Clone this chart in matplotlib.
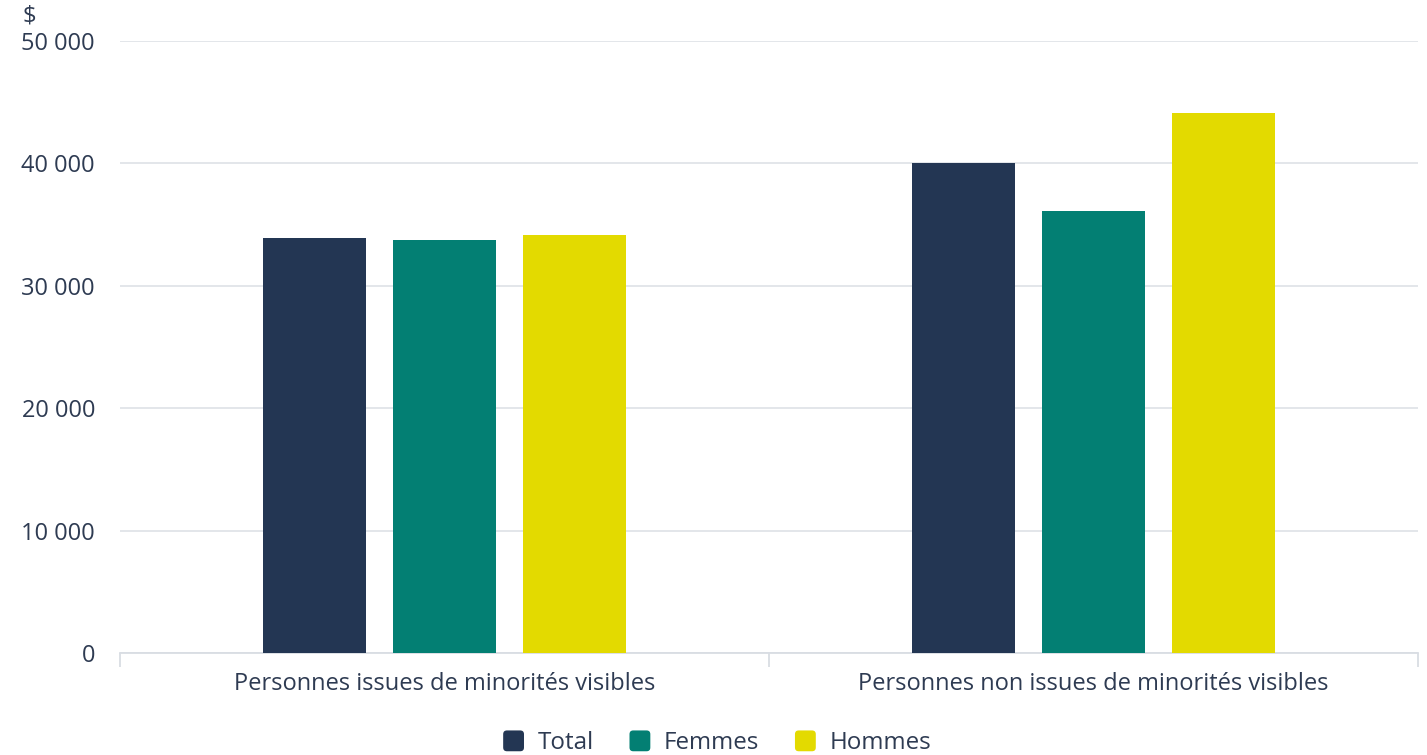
import matplotlib
matplotlib.use("Agg")
import matplotlib.pyplot as plt
import numpy as np
from matplotlib.patches import FancyBboxPatch
from matplotlib.legend_handler import HandlerBase

categories = ["Personnes issues de minorités visibles",
              "Personnes non issues de minorités visibles"]
series_names = ["Total", "Femmes", "Hommes"]
total = [33900, 40000]
femmes = [33750, 36100]
hommes = [34150, 44100]
yticks = [0, 10000, 20000, 30000, 40000, 50000]
colors = ["#233653", "#037f73", "#e3da00"]
text_color = "#2e3b52"

plt.rcParams['font.family'] = ['Open Sans', 'DejaVu Sans']

W, H = 1427, 755
fig = plt.figure(figsize=(W / 100, H / 100), dpi=100)
ax = fig.add_axes([120 / W, (H - 653) / H, (1418 - 120) / W, (653 - 41) / H])

x = np.arange(len(categories))
bw = 103 / 649
step = 130 / 649
for i, (vals, c, name) in enumerate(zip([total, femmes, hommes], colors, series_names)):
    ax.bar(x + (i - 1) * step, vals, width=bw, color=c, label=name, zorder=3)

ax.set_xlim(-0.5, 1.5)
ax.set_ylim(0, 50000)
ax.set_yticks(yticks)
ax.set_yticklabels([f"{v:,}".replace(",", " ") for v in yticks])
ax.tick_params(axis='y', length=0, pad=18, labelsize=17, labelcolor=text_color)
ax.grid(axis='y', color="#e1e4e8", linewidth=1.3, zorder=0)

ax.set_xticks([-0.5, 0.5, 1.5])
ax.set_xticklabels([])
ax.tick_params(axis='x', which='major', length=10, width=1.3, color="#d9dde3")
ax.set_xticks(x, minor=True)
ax.set_xticklabels(categories, minor=True)
ax.tick_params(axis='x', which='minor', length=0, pad=14, labelsize=17, labelcolor=text_color)

for s in ['top', 'right', 'left']:
    ax.spines[s].set_visible(False)
ax.spines['bottom'].set_color("#d9dde3")
ax.spines['bottom'].set_linewidth(1.3)
ax.set_axisbelow(True)

fig.text(22 / W, (H - 16) / H, "$", fontsize=17, color=text_color, ha='left', va='center')


class RoundHandler(HandlerBase):
    def create_artists(self, legend, orig_handle, xdescent, ydescent, width, height, fontsize, trans):
        s = 15.0  # points (~21 px)
        x0 = xdescent + (width - s) / 2
        y0 = -ydescent + (height - s) / 2
        r = s * 0.18
        p = FancyBboxPatch((x0 + r, y0 + r), s - 2 * r, s - 2 * r,
                           boxstyle="round,pad=%f,rounding_size=%f" % (r, r),
                           facecolor=orig_handle.get_facecolor(), edgecolor='none',
                           transform=trans)
        return [p]


handles, labels = ax.get_legend_handles_labels()
handles = [h.patches[0] for h in handles]
leg = fig.legend(handles, labels, loc='center', bbox_to_anchor=(717 / W, (H - 743) / H),
                 ncol=3, frameon=False, fontsize=17.4, handlelength=0.9, handleheight=0.9,
                 handletextpad=0.55, columnspacing=1.45,
                 handler_map={type(handles[0]): RoundHandler()})
for t in leg.get_texts():
    t.set_color(text_color)

fig.savefig("out.png", dpi=100)
